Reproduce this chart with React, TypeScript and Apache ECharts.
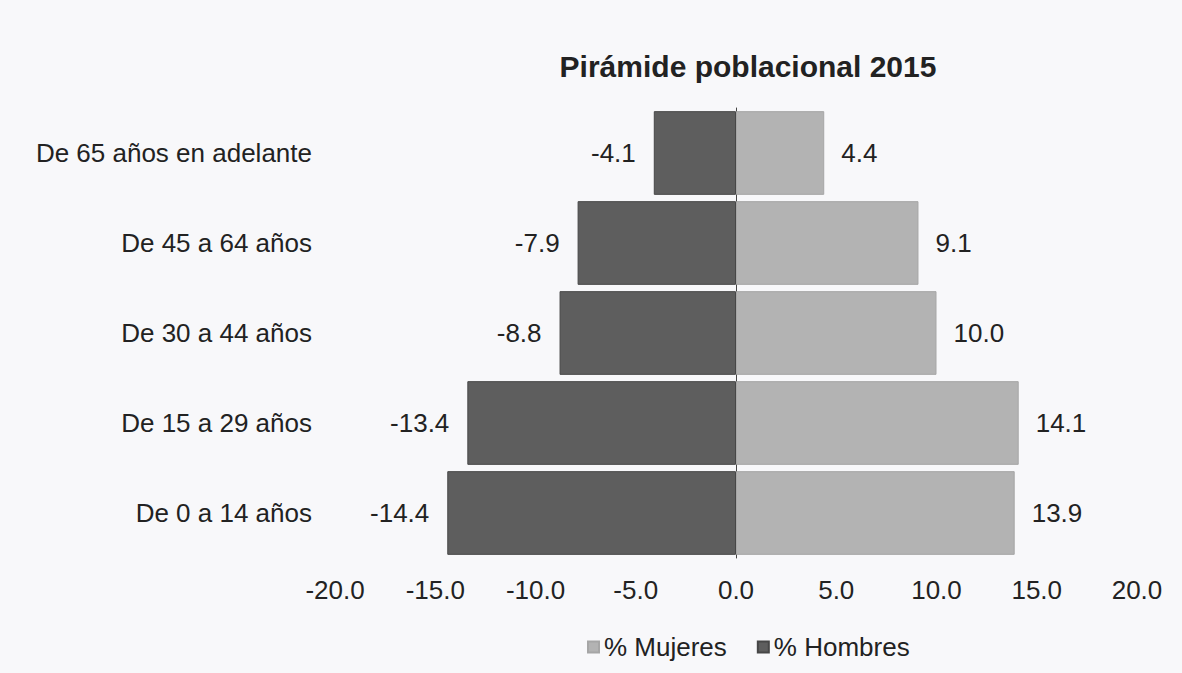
import React, { useEffect, useRef } from "react";
import * as echarts from "echarts";

const categories = [
  "De 0 a 14 años",
  "De 15 a 29 años",
  "De 30 a 44 años",
  "De 45 a 64 años",
  "De 65 años en adelante",
];
const mujeres = [13.9, 14.1, 10.0, 9.1, 4.4];
const hombres = [-14.4, -13.4, -8.8, -7.9, -4.1];
const xTicks = { min: -20, max: 20, interval: 5 };

export default function App() {
  const ref = useRef<HTMLDivElement>(null);
  useEffect(() => {
    if (!ref.current) return;
    const chart = echarts.init(ref.current, undefined, { renderer: "svg" });
    const font = "Liberation Sans, Arial, sans-serif";
    chart.setOption({
      animation: false,
      backgroundColor: "#f8f8fa",
      textStyle: { fontFamily: font },
      title: {
        text: "Pirámide poblacional 2015",
        left: 743,
        textAlign: "center",
        top: 46,
        textStyle: { fontSize: 30, fontWeight: "bold", color: "#222", fontFamily: font },
      },
      legend: {
        data: ["% Mujeres", "% Hombres"],
        top: 629,
        left: 582,
        itemWidth: 11,
        itemHeight: 11,
        itemGap: 30,
        icon: "rect",
        textStyle: { fontSize: 26, color: "#222", fontFamily: font },
      },
      grid: { left: 335, right: 45, top: 108, bottom: 115, containLabel: false },
      xAxis: {
        type: "value",
        min: xTicks.min,
        max: xTicks.max,
        interval: xTicks.interval,
        axisLabel: {
          fontSize: 26,
          color: "#222",
          margin: 19,
          formatter: (v: number) => v.toFixed(1),
        },
        axisLine: { show: false },
        axisTick: { show: false },
        splitLine: { show: false },
      },
      yAxis: {
        type: "category",
        data: categories,
        axisLabel: { fontSize: 26, color: "#222", margin: 23 },
        axisLine: { show: true, onZero: true, lineStyle: { color: "#444", width: 1 } },
        axisTick: { show: false },
      },
      series: [
        {
          name: "% Mujeres",
          type: "bar",
          stack: "total",
          data: mujeres,
          barCategoryGap: "7%",
          itemStyle: { color: "#b3b3b3", borderColor: "#a6a6a6", borderWidth: 1 },
          label: {
            show: true,
            position: "right",
            distance: 17,
            fontSize: 26,
            color: "#222",
            formatter: (p: any) => Number(p.value).toFixed(1),
          },
        },
        {
          name: "% Hombres",
          type: "bar",
          stack: "total",
          data: hombres,
          barCategoryGap: "7%",
          itemStyle: { color: "#5e5e5e", borderColor: "#474747", borderWidth: 1 },
          label: {
            show: true,
            position: "left",
            distance: 18,
            fontSize: 26,
            color: "#222",
            formatter: (p: any) => Number(p.value).toFixed(1),
          },
        },
      ],
    });
    return () => chart.dispose();
  }, []);
  return (
    <div
      ref={ref}
      style={{ position: "fixed", left: 0, top: 0, width: 1182, height: 673 }}
    />
  );
}
